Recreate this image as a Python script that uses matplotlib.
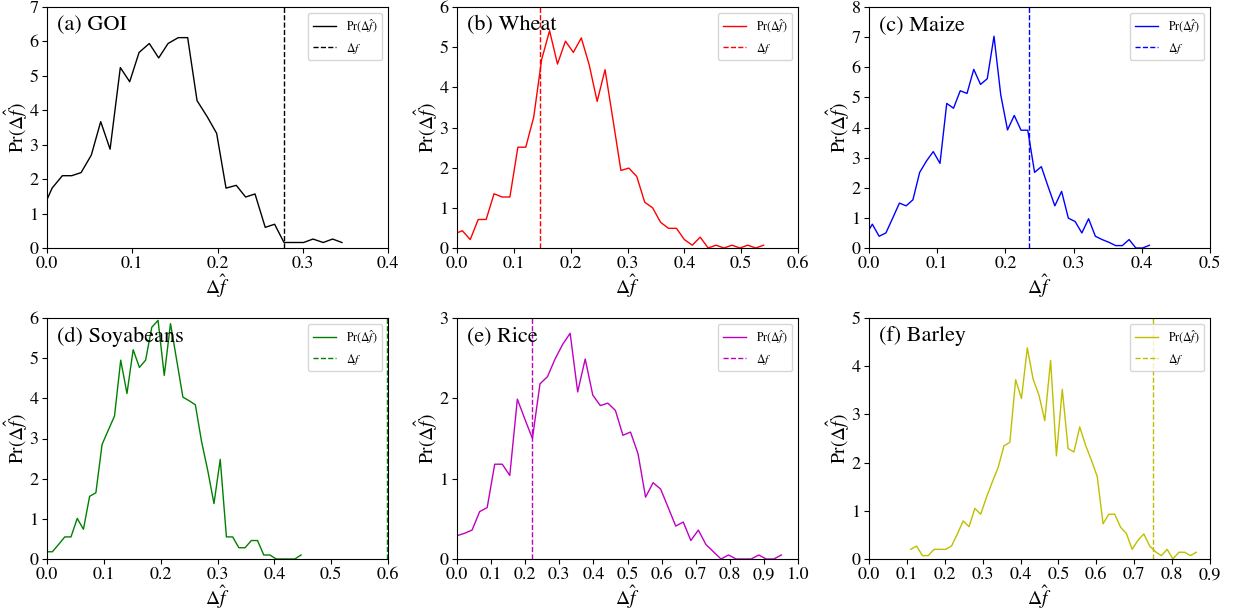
import numpy as np
import matplotlib
matplotlib.use("Agg")
import matplotlib.pyplot as plt

plt.rcParams['font.family'] = ['STIXGeneral', 'Liberation Serif', 'DejaVu Serif']
plt.rcParams['mathtext.fontset'] = 'stix'

# ---------------- data ----------------
titles = ["(a) GOI", "(b) Wheat", "(c) Maize", "(d) Soyabeans", "(e) Rice", "(f) Barley"]
colors = ["k", "r", "b", "g", "m", "y"]

goi_x = [-0.005, 0.006, 0.018, 0.029, 0.040, 0.052, 0.063, 0.074, 0.086, 0.097, 0.108, 0.120,
         0.131, 0.142, 0.154, 0.165, 0.176, 0.188, 0.199, 0.210, 0.222, 0.233, 0.244, 0.256,
         0.267, 0.278, 0.290, 0.301, 0.312, 0.324, 0.335, 0.346]
goi_y = [1.13, 1.74, 2.10, 2.10, 2.19, 2.70, 3.67, 2.87, 5.24, 4.83, 5.68, 5.94, 5.52, 5.94,
         6.11, 6.11, 4.28, 3.81, 3.33, 1.74, 1.82, 1.48, 1.57, 0.60, 0.69, 0.16, 0.16, 0.16,
         0.26, 0.16, 0.26, 0.16]
goi_df = 0.278

wheat_x = [-0.0046, 0.0094, 0.0233, 0.0373, 0.0513, 0.0652, 0.0792, 0.0931, 0.1071, 0.1210,
           0.1350, 0.1489, 0.1629, 0.1768, 0.1908, 0.2047, 0.2187, 0.2326, 0.2466, 0.2605,
           0.2745, 0.2884, 0.3024, 0.3163, 0.3303, 0.3442, 0.3582, 0.3721, 0.3861, 0.4000,
           0.4140, 0.4279, 0.4419, 0.4558, 0.4698, 0.4837, 0.4977, 0.5116, 0.5256, 0.5395]
wheat_y = [0.35, 0.43, 0.21, 0.71, 0.71, 1.35, 1.27, 1.27, 2.51, 2.51, 3.26, 4.69, 5.41, 4.58,
           5.15, 4.87, 5.23, 4.56, 3.65, 4.44, 3.19, 1.93, 1.99, 1.78, 1.14, 1.00, 0.64, 0.49,
           0.49, 0.21, 0.07, 0.27, 0.00, 0.07, 0.00, 0.07, 0.00, 0.07, 0.00, 0.07]
wheat_df = 0.1455

maize_x = [-0.0050, 0.0049, 0.0148, 0.0248, 0.0347, 0.0446, 0.0545, 0.0644, 0.0743, 0.0843,
           0.0942, 0.1041, 0.1140, 0.1239, 0.1338, 0.1437, 0.1536, 0.1635, 0.1734, 0.1833,
           0.1932, 0.2031, 0.2130, 0.2229, 0.2328, 0.2428, 0.2527, 0.2626, 0.2725, 0.2824,
           0.2923, 0.3022, 0.3121, 0.3220, 0.3319, 0.3418, 0.3517, 0.3616, 0.3715, 0.3814,
           0.3913, 0.4012, 0.4111]
maize_y = [0.42, 0.79, 0.39, 0.50, 0.99, 1.49, 1.40, 1.60, 2.51, 2.89, 3.20, 2.81, 4.80, 4.64,
           5.22, 5.13, 5.93, 5.43, 5.62, 7.03, 5.08, 3.92, 4.40, 3.91, 3.91, 2.51, 2.70, 2.04,
           1.40, 1.88, 0.99, 0.88, 0.50, 0.97, 0.39, 0.28, 0.19, 0.08, 0.08, 0.28, 0.00, 0.00,
           0.09]
maize_df = 0.234

soy_x = [-0.0016, 0.0094, 0.0203, 0.0313, 0.0422, 0.0532, 0.0641, 0.0750, 0.0860, 0.0969,
         0.1079, 0.1188, 0.1297, 0.1407, 0.1516, 0.1626, 0.1735, 0.1844, 0.1954, 0.2063,
         0.2173, 0.2282, 0.2391, 0.2501, 0.2610, 0.2720, 0.2829, 0.2938, 0.3048, 0.3157,
         0.3267, 0.3376, 0.3485, 0.3595, 0.3704, 0.3814, 0.3923, 0.4032, 0.4142, 0.4251,
         0.4361, 0.4470]
soy_y = [0.18, 0.18, 0.36, 0.55, 0.55, 1.01, 0.74, 1.56, 1.65, 2.85, 3.21, 3.56, 4.95, 4.12,
         5.21, 4.77, 4.95, 5.77, 5.94, 4.57, 5.86, 4.95, 4.03, 3.94, 3.84, 2.92, 2.20, 1.38,
         2.48, 0.55, 0.55, 0.28, 0.28, 0.46, 0.46, 0.10, 0.10, 0.00, 0.00, 0.00, 0.00, 0.10]
soy_df = 0.599

rice_x = [0.0000, 0.0221, 0.0442, 0.0664, 0.0885, 0.1106, 0.1327, 0.1548, 0.1770, 0.1991,
          0.2212, 0.2433, 0.2654, 0.2876, 0.3097, 0.3318, 0.3539, 0.3760, 0.3982, 0.4203,
          0.4424, 0.4645, 0.4866, 0.5088, 0.5309, 0.5530, 0.5751, 0.5972, 0.6194, 0.6415,
          0.6636, 0.6857, 0.7078, 0.7300, 0.7521, 0.7742, 0.7963, 0.8184, 0.8406, 0.8627,
          0.8848, 0.9069, 0.9290, 0.9512]
rice_y = [0.29, 0.32, 0.36, 0.59, 0.64, 1.18, 1.18, 1.04, 1.99, 1.74, 1.50, 2.18, 2.27, 2.49,
          2.67, 2.81, 2.08, 2.49, 2.04, 1.91, 1.94, 1.85, 1.54, 1.58, 1.31, 0.77, 0.95, 0.87,
          0.64, 0.41, 0.46, 0.23, 0.36, 0.18, 0.09, 0.00, 0.05, 0.00, 0.00, 0.00, 0.05, 0.00,
          0.00, 0.05]
rice_df = 0.22

barley_x = [0.1102, 0.1256, 0.1410, 0.1563, 0.1717, 0.1871, 0.2025, 0.2179, 0.2332, 0.2486,
            0.2640, 0.2794, 0.2948, 0.3101, 0.3255, 0.3409, 0.3563, 0.3717, 0.3870, 0.4024,
            0.4178, 0.4332, 0.4486, 0.4639, 0.4793, 0.4947, 0.5101, 0.5255, 0.5408, 0.5562,
            0.5716, 0.5870, 0.6024, 0.6177, 0.6331, 0.6485, 0.6639, 0.6793, 0.6946, 0.7100,
            0.7254, 0.7408, 0.7562, 0.7715, 0.7869, 0.8023, 0.8177, 0.8331, 0.8484, 0.8638]
barley_y = [0.20, 0.27, 0.07, 0.07, 0.20, 0.20, 0.20, 0.27, 0.52, 0.79, 0.67, 1.05, 0.93, 1.28,
            1.60, 1.90, 2.35, 2.42, 3.72, 3.33, 4.38, 3.73, 3.40, 2.87, 4.12, 2.14, 3.52, 2.29,
            2.22, 2.74, 2.36, 2.05, 1.71, 0.73, 0.93, 0.93, 0.66, 0.53, 0.20, 0.39, 0.52, 0.27,
            0.15, 0.07, 0.20, 0.00, 0.14, 0.14, 0.07, 0.14]
barley_df = 0.749

series_x = [goi_x, wheat_x, maize_x, soy_x, rice_x, barley_x]
series_y = [goi_y, wheat_y, maize_y, soy_y, rice_y, barley_y]
delta_f = [goi_df, wheat_df, maize_df, soy_df, rice_df, barley_df]

xmax = [0.4, 0.6, 0.5, 0.6, 1.0, 0.9]
ymax = [7, 6, 8, 6, 3, 5]

# ---------------- figure ----------------
W, H = 1236, 610
fig = plt.figure(figsize=(W / 100, H / 100), dpi=100)

col_left = [47, 457, 869]
ax_w = 341
ax_h = 241
row_bottom = [248, 559]

for i in range(6):
    r, c = divmod(i, 3)
    ax = fig.add_axes([col_left[c] / W, (H - row_bottom[r]) / H, ax_w / W, ax_h / H])
    ax.plot(series_x[i], series_y[i], color=colors[i], lw=1.0,
            label=r'$\mathrm{Pr}(\Delta\hat{f})$')
    ax.axvline(delta_f[i], color=colors[i], lw=1.0, ls='--', label=r'$\Delta f$')
    ax.set_xlim(0, xmax[i])
    ax.set_ylim(0, ymax[i])
    ticks = np.arange(0, xmax[i] + 1e-9, 0.1)
    ax.set_xticks(np.round(ticks, 1))
    ax.set_xticklabels([f"{t:.1f}" for t in ticks])
    ax.set_yticks(range(0, ymax[i] + 1))
    ax.tick_params(labelsize=13, pad=2.5)
    ax.set_xlabel(r'$\Delta\hat{f}$', fontsize=14, labelpad=0)
    ax.set_ylabel(r'$\mathrm{Pr}(\Delta\hat{f})$', fontsize=14, labelpad=0)
    ax.text(0.03, 0.965, titles[i], transform=ax.transAxes, fontsize=16,
            ha='left', va='top')
    ax.legend(loc='upper right', fontsize=8.5)

fig.savefig("out.png", dpi=100)
